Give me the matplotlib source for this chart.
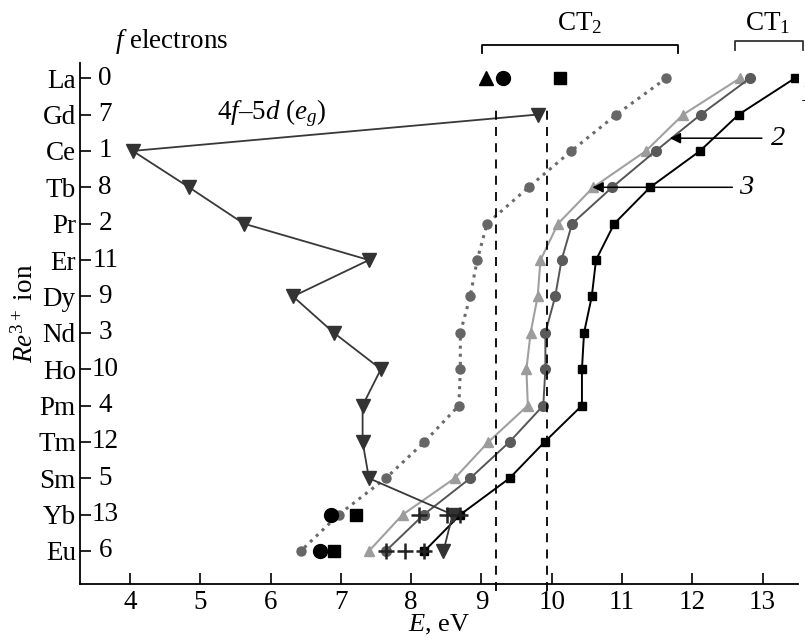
import numpy as np
import matplotlib
matplotlib.use("Agg")
import matplotlib.pyplot as plt

plt.rcParams["font.family"] = ["Liberation Serif", "DejaVu Serif"]
plt.rcParams["mathtext.fontset"] = "custom"
plt.rcParams["mathtext.rm"] = "Liberation Serif"
plt.rcParams["mathtext.it"] = "Liberation Serif:italic"

FS = 19.5

# ions from top to bottom, with number of f electrons
IONS      = ["La", "Gd", "Ce", "Tb", "Pr", "Er", "Dy", "Nd", "Ho", "Pm", "Tm", "Sm", "Yb", "Eu"]
F_ELEC    = [0, 7, 1, 8, 2, 11, 9, 3, 10, 4, 12, 5, 13, 6]

# curve 1 (black squares), 2 (dark circles), 3 (light triangles), dotted circles
E_CT1     = [13.46, 12.66, 12.11, 11.40, 10.89, 10.63, 10.57, 10.46, 10.43, 10.43, 9.90, 9.40, 8.70, 8.19]
E_CT2_2   = [12.82, 12.12, 11.48, 10.86, 10.29, 10.14, 10.05, 9.91, 9.91, 9.88, 9.40, 8.84, 8.18, 7.64]
E_CT2_3   = [12.68, 11.87, 11.34, 10.59, 10.09, 9.84, 9.80, 9.70, 9.64, 9.66, 9.10, 8.62, 7.88, 7.40]
E_DOTTED  = [11.63, 10.92, 10.28, 9.67, 9.08, 8.94, 8.84, 8.70, 8.70, 8.68, 8.19, 7.64, 6.97, 6.43]

# 4f-5d (e_g) transitions, La has none
FD_IONS   = ["Gd", "Ce", "Tb", "Pr", "Er", "Dy", "Nd", "Ho", "Pm", "Tm", "Sm", "Yb", "Eu"]
E_4F5D    = [9.80, 4.04, 4.84, 5.62, 7.40, 6.32, 6.90, 7.57, 7.31, 7.31, 7.40, 8.59, 8.46]

# crosses
CROSS_IONS = ["Yb", "Yb", "Yb", "Eu", "Eu", "Eu"]
CROSS_E    = [8.11, 8.51, 8.69, 7.64, 7.91, 8.18]

# isolated black symbols
TRI_IONS  = ["La"];             TRI_E  = [9.07]
CIRC_IONS = ["La", "Yb", "Eu"]; CIRC_E = [9.31, 6.86, 6.70]
SQ_IONS   = ["La", "Yb", "Eu"]; SQ_E   = [10.12, 7.21, 6.91]

CT2_BAND  = [9.21, 9.94]
CT2_RANGE = [9.01, 11.80]
CT1_RANGE = [12.61, 13.57]


def ypos(names):
    return [len(IONS) - 1 - IONS.index(n) for n in names]


fig = plt.figure(figsize=(8.05, 6.39), dpi=100)
ax = fig.add_axes([0.0994, 0.0861, 0.8916, 0.8149])
y_all = ypos(IONS)

ax.plot(E_DOTTED, y_all, ":", color="#6a6a6a", lw=2.2, marker="o", ms=6.5,
        mfc="#666666", mec="#666666")
ax.plot(E_CT2_3, y_all, "-", color="#a0a0a0", lw=1.5, marker="^", ms=7.5,
        mfc="#9c9c9c", mec="#9c9c9c")
ax.plot(E_CT2_2, y_all, "-", color="#555555", lw=1.4, marker="o", ms=7,
        mfc="#5a5a5a", mec="#5a5a5a")
ax.plot(E_CT1, y_all, "-", color="black", lw=1.4, marker="s", ms=5.5,
        mfc="black", mec="black")
ax.plot(E_4F5D, ypos(FD_IONS), "-", color="#383838", lw=1.3, marker="v", ms=10,
        mfc="#333333", mec="#333333")

ax.plot(CROSS_E, ypos(CROSS_IONS), "+", color="#222222", ms=12, mew=1.8)
ax.plot(TRI_E, ypos(TRI_IONS), "^", color="black", ms=9.5)
ax.plot(CIRC_E, ypos(CIRC_IONS), "o", color="black", ms=10)
ax.plot(SQ_E, ypos(SQ_IONS), "s", color="black", ms=8.5)

# dashed CT2 band limits
for xv in CT2_BAND:
    ax.plot([xv, xv], [-1.1, 12.15], "--", color="black", lw=1.3,
            dashes=(5, 4), clip_on=False)

# brackets above the plot
ax.plot([CT2_RANGE[0], CT2_RANGE[0], CT2_RANGE[1], CT2_RANGE[1]],
        [13.69, 13.91, 13.91, 13.69], color="black", lw=1.3, clip_on=False)
ax.plot([CT1_RANGE[0], CT1_RANGE[0], CT1_RANGE[1], CT1_RANGE[1]],
        [13.77, 14.02, 14.02, 13.77], color="#333333", lw=1.3, clip_on=False)
ax.text(10.40, 14.5, r"CT$_2$", fontsize=FS, ha="center", va="center")
ax.text(13.07, 14.5, r"CT$_1$", fontsize=FS, ha="center", va="center", clip_on=False)

ax.text(4.60, 14.0, r"$f$ electrons", fontsize=FS, ha="center", va="center")
ax.text(6.02, 12.05, r"4$f$–5$d$ ($e_g$)", fontsize=FS, ha="center", va="center")

# curve number labels with arrows
ax.annotate("", xy=(11.68, 11.35), xytext=(12.99, 11.35),
            arrowprops=dict(arrowstyle="-|>", color="black", lw=1.1,
                            mutation_scale=16, shrinkA=0, shrinkB=0))
ax.annotate("", xy=(10.58, 10.0), xytext=(12.57, 10.0),
            arrowprops=dict(arrowstyle="-|>", color="black", lw=1.1,
                            mutation_scale=16, shrinkA=0, shrinkB=0))
ax.text(13.22, 11.35, "2", fontsize=FS + 1, style="italic", ha="center", va="center")
ax.text(12.77, 10.0, "3", fontsize=FS + 1, style="italic", ha="center", va="center")
ax.text(13.55, 12.55, "1", fontsize=FS + 1, style="italic", ha="left", va="center",
        clip_on=False)

# f electron counts next to the ticks
for yv, n in zip(y_all, F_ELEC):
    ax.text(0.035, yv, str(n), transform=ax.get_yaxis_transform(),
            fontsize=FS, ha="center", va="center")

ax.set_xlim(3.29, 13.5)
ax.set_ylim(-0.907, 13.41)
ax.set_xticks(range(4, 14))
ax.set_yticks(y_all)
ax.set_yticklabels(IONS)
ax.tick_params(direction="in", length=8, width=1.2, labelsize=FS)
ax.tick_params(axis="y", pad=3)
ax.tick_params(axis="x", pad=4)
for s in ["top", "right"]:
    ax.spines[s].set_visible(False)
for s in ["left", "bottom"]:
    ax.spines[s].set_linewidth(1.3)

ax.set_xlabel(r"$E$, eV", fontsize=FS - 0.5, va="top")
ax.xaxis.set_label_coords(0.5, -0.055)
ax.set_ylabel(r"$Re^{3+}$ ion", fontsize=FS)
ax.yaxis.set_label_coords(-0.058, 0.52)

fig.savefig("out.png", dpi=100)
